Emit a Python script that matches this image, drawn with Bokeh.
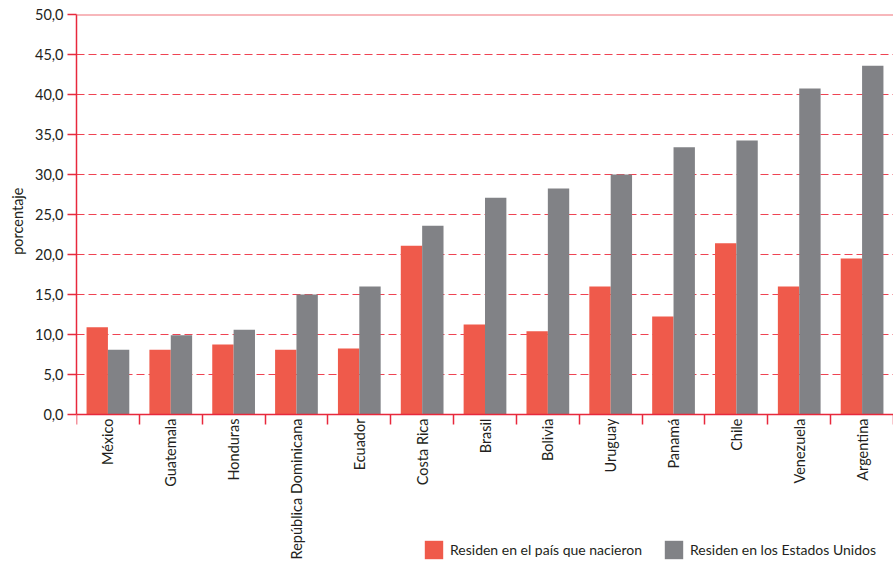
import math
import numpy as np
from bokeh.plotting import figure
from bokeh.models import FixedTicker, Span, Legend, LegendItem, Title
from bokeh.embed import file_html
from bokeh.resources import INLINE

countries = ["México", "Guatemala", "Honduras", "República Dominicana", "Ecuador",
             "Costa Rica", "Brasil", "Bolivia", "Uruguay", "Panamá", "Chile",
             "Venezuela", "Argentina"]
pais_nacimiento = [10.9, 8.1, 8.75, 8.1, 8.25, 21.1, 11.25, 10.4, 16.0, 12.25, 21.4, 16.0, 19.5]
estados_unidos = [8.1, 9.9, 10.6, 15.0, 16.0, 23.6, 27.1, 28.25, 30.0, 33.4, 34.25, 40.75, 43.6]
y_ticks = [0, 5, 10, 15, 20, 25, 30, 35, 40, 45, 50]
y_tick_labels = ["0,0", "5,0", "10,0", "15,0", "20,0", "25,0", "30,0", "35,0", "40,0", "45,0", "50,0"]
series_names = ["Residen en el país que nacieron", "Residen en los Estados Unidos"]
y_title = "porcentaje"

RED = "#EF5A4B"
GRAY = "#818286"
AXIS_RED = "#E8283C"
GRID_RED = "#EF4353"
TXT = "#231F20"
FONT = "Lato"

W, H = 893, 565
TOP, LEFT = 14, 72
n = len(countries)
centers = np.arange(n) + 0.5
bw = 0.34

# frame runs to the bottom of the figure; 8 px per unit on y
y_min = 50 - (H - TOP) / 8.0

p = figure(width=W, height=H, x_range=(0, n), y_range=(y_min, 50),
           output_backend="svg", toolbar_location=None,
           min_border_left=LEFT, min_border_right=0, min_border_top=TOP,
           min_border_bottom=0)
p.outline_line_color = None
p.background_fill_color = "white"

r1 = p.vbar(x=centers - bw / 2, top=pais_nacimiento, width=bw, bottom=0,
            fill_color=RED, line_color=None)
r2 = p.vbar(x=centers + bw / 2, top=estados_unidos, width=bw, bottom=0,
            fill_color=GRAY, line_color=None)

# x axis drawn at y = 0
xa = p.xaxis[0]
xa.fixed_location = 0
xa.ticker = FixedTicker(ticks=list(centers), minor_ticks=list(range(n + 1)))
xa.major_label_overrides = {float(c): name for c, name in zip(centers, countries)}
xa.major_label_orientation = math.pi / 2
xa.major_tick_out = 0
xa.major_tick_in = 0
xa.minor_tick_out = 10
xa.minor_tick_in = 0
xa.minor_tick_line_color = AXIS_RED
xa.minor_tick_line_width = 1.5
xa.axis_line_color = AXIS_RED
xa.axis_line_width = 1.5
xa.major_label_standoff = -6
xa.major_label_text_font = FONT
xa.major_label_text_font_size = "14.5px"
xa.major_label_text_color = TXT
p.xgrid.grid_line_color = None

# y axis
ya = p.yaxis[0]
ya.bounds = (0, 50)
ya.ticker = FixedTicker(ticks=y_ticks)
ya.major_label_overrides = {t: l for t, l in zip(y_ticks, y_tick_labels)}
ya.major_tick_out = 9
ya.major_tick_in = 0
ya.minor_tick_line_color = None
ya.major_tick_line_color = AXIS_RED
ya.major_tick_line_width = 1.5
ya.axis_line_color = AXIS_RED
ya.axis_line_width = 1.5
ya.major_label_standoff = 4
ya.major_label_text_font = FONT
ya.major_label_text_font_size = "14.5px"
ya.major_label_text_color = TXT

p.add_layout(Title(text=y_title, align="right", offset=173, standoff=12,
                   text_font=FONT, text_font_size="14.5px", text_font_style="normal",
                   text_color=TXT), "left")

p.ygrid.ticker = FixedTicker(ticks=y_ticks[1:-1])
p.ygrid.grid_line_color = GRID_RED
p.ygrid.grid_line_dash = "8 4"
p.ygrid.grid_line_width = 1

top_line = Span(location=50, dimension="width", line_color="#F07078", line_width=2)
p.add_layout(top_line)

legend = Legend(items=[LegendItem(label=series_names[0], renderers=[r1]),
                       LegendItem(label=series_names[1], renderers=[r2])],
                orientation="horizontal", location=(424 - LEFT - 6, 4),
                border_line_color=None, background_fill_alpha=0,
                padding=0, margin=0, spacing=20,
                glyph_width=23, glyph_height=23, label_standoff=5,
                label_text_font=FONT, label_text_font_size="14px",
                label_text_color=TXT)
p.add_layout(legend, "center")

open("out.html", "w").write(file_html(p, INLINE))
